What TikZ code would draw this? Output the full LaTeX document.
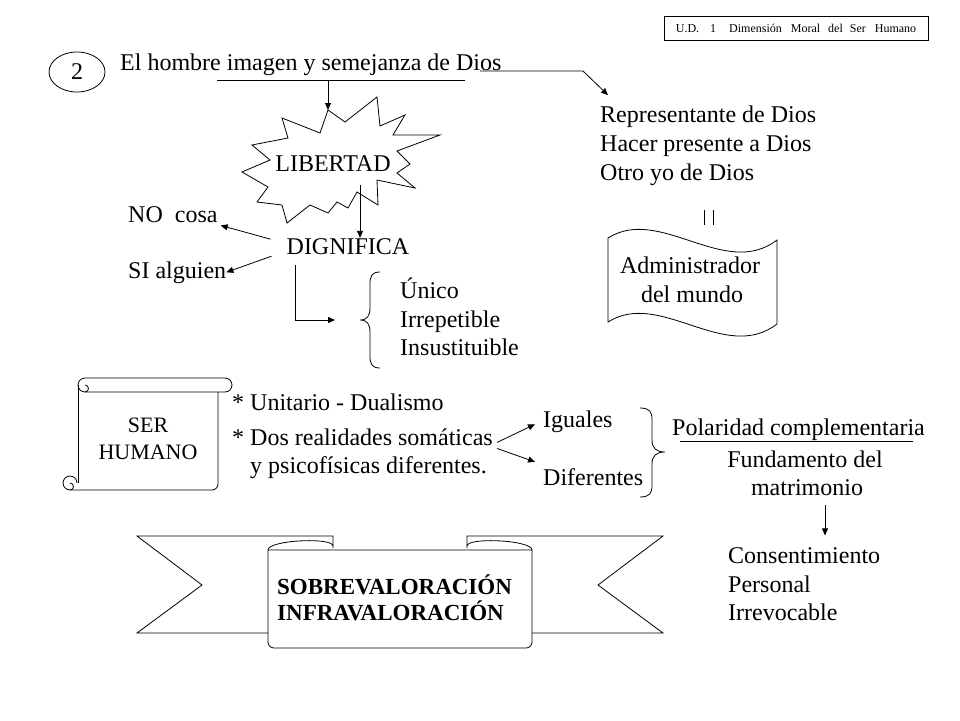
\documentclass[tikz,border=0pt]{standalone}
\usepackage{fontspec}
\setmainfont{Liberation Serif}
\usetikzlibrary{arrows.meta,positioning,calc,shapes.geometric}
\tikzset{
  txt/.style={font=\fontsize{24}{29}\selectfont, inner sep=0pt, anchor=base west},
  ctxt/.style={txt, anchor=base},
  btxt/.style={txt, font=\fontsize{23}{28}\selectfont\bfseries},
  hdr/.style={draw, line width=0.8pt, font=\fontsize{12}{14}\selectfont,
              minimum width=264pt, minimum height=24pt, inner sep=0pt},
  arr/.style={-{Triangle[length=7pt,width=6pt]}, line width=0.8pt},
  ln/.style={line width=0.8pt},
  shp/.style={draw, line width=0.8pt, fill=white},
}

\begin{document}
\begin{tikzpicture}[x=1pt, y=-1pt]
  \useasboundingbox (0,0) rectangle (960,720);

  % cabecera
  \node[hdr] (ud) at (796,28.5) {U.D.\hspace{11pt}1\hspace{13pt}Dimensión\hspace{9pt}Moral\hspace{8pt}del\hspace{7pt}Ser\hspace{9pt}Humano};
  \node[ellipse, draw, ln, minimum width=56pt, minimum height=40pt, inner sep=0pt,
        font=\fontsize{24}{29}\selectfont] (num) at (77,72) {2};

  % titulo
  \node[txt] (titulo) at (120,70) {El hombre imagen y semejanza de Dios};
  \coordinate (ulL) at (217,80); \coordinate (ulR) at (465,80);
  \coordinate (ulM) at (328,80);
  \draw[ln] (ulL) -- (ulR);
  \coordinate (osL) at (480,71); \coordinate (osR) at (583,71);

  % libertad
  \coordinate (libtop) at (328,110);
  \draw[shp] (libtop) -- (345,122) -- (377,97) -- (380,126) -- (405,115) -- (393,135)
    -- (440,135) -- (397,151) -- (410,164) -- (397,173) -- (415,188) -- (377,180)
    -- (378,205) -- (357,192) -- (348,208) -- (337,202) -- (328,213) -- (310,205)
    -- (287,223) -- (282,205) -- (257,202) -- (268,187) -- (242,172) -- (270,160)
    -- (252,145) -- (288,138) -- (282,118) -- (320,133) -- cycle;
  \node[ctxt] (lib) at (333,171) {LIBERTAD};
  \draw[arr] (ulM) -- (libtop);
  \coordinate (libout) at (360,185);

  \node[ctxt] (dig) at (348,254) {DIGNIFICA};
  \draw[arr] (libout) -- (libout |- dig.north);
  \node[txt] (nocosa) at (128,222) {NO\ \ cosa};
  \node[txt] (sialg) at (128,278) {SI alguien};
  \draw[arr] ($(dig.west)+(-16,-7)$) -- ($(nocosa.south east)+(3,3)$);
  \draw[arr] ($(dig.west)+(-15,10)$) -- (sialg.east);

  \coordinate (ltip) at (360,320);
  \draw[arr] ($(dig.south west)+(9,11)$) |- ($(ltip)+(-25,0)$);
  \draw[ln] (380,272) .. controls (372,272) and (370,276) .. (370,284) -- (370,308)
    .. controls (370,316) and (367,320) .. (ltip)
    .. controls (367,320) and (370,324) .. (370,332) -- (370,356)
    .. controls (370,364) and (372,368) .. (380,368);
  \node[txt] (uni1) at (400,298) {Único};
  \node[txt] (uni2) at (400,327) {Irrepetible};
  \node[txt] (uni3) at (400,355) {Insustituible};

  % representante
  \node[txt] (rep1) at (600,122) {Representante de Dios};
  \node[txt] (rep2) at (600,151) {Hacer presente a Dios};
  \node[txt] (rep3) at (600,180) {Otro yo de Dios};
  \draw[arr] (osL) -- (osR) -- ($(rep1.north west)+(8,-10)$);
  \draw[ln] (704,210) -- (704,225);
  \draw[ln] (713,210) -- (713,225);
  \draw[ln] (608,238) .. controls (660,205) and (725,280) .. (777,240) -- (777,324)
    .. controls (725,364) and (660,289) .. (608,322) -- cycle;
  \node[ctxt] (adm1) at (690,273) {Administrador};
  \node[ctxt] (adm2) at (692,302) {del mundo};

  % ser humano
  \draw[ln] (85,378) -- (225,378) arc[start angle=-90, end angle=90, radius=7]
    -- (85,392) arc[start angle=90, end angle=270, radius=7];
  \draw[ln] (85,392) arc[start angle=90, end angle=-90, radius=3.5];
  \draw[ln] (78,385) -- (78,483);
  \draw[ln] (218,392) -- (218,484) arc[start angle=0, end angle=90, radius=6]
    -- (70,490) arc[start angle=90, end angle=360, radius=7];
  \draw[ln] (70,490) arc[start angle=90, end angle=-90, radius=3.5];
  \node[ctxt, font=\fontsize{22}{27}\selectfont] (ser) at (148,432) {SER};
  \node[ctxt, font=\fontsize{22}{27}\selectfont] (hum) at (148,459) {HUMANO};

  \node[txt] (unit) at (232,410) {* Unitario - Dualismo};
  \node[txt] (dos) at (232,445) {* Dos realidades somáticas};
  \node[txt] (psi) at (250,473) {y psicofísicas diferentes.};
  \node[txt] (ig) at (543,427) {Iguales};
  \node[txt] (dif) at (543,485) {Diferentes};
  \draw[arr] ($(dos.south east)+(4,-3)$) -- ($(ig.west)+(-8,3)$);
  \draw[arr] ($(dos.south east)+(4,3)$) -- ($(dif.north west)+(-8,-6)$);

  \coordinate (rtip) at (665,452);
  \draw[ln] (640,408) .. controls (650,408) and (652,412) .. (652,420) -- (652,440)
    .. controls (652,448) and (656,452) .. (rtip)
    .. controls (656,452) and (652,456) .. (652,464) -- (652,485)
    .. controls (652,493) and (650,497) .. (640,497);

  \node[txt] (pol) at (672,435) {Polaridad complementaria};
  \draw[ln] (680,441) -- (913,441);
  \node[ctxt] (fun) at (805,467) {Fundamento del};
  \node[ctxt] (mat) at (807,495) {matrimonio};
  \draw[arr] ($(mat.south)+(18,10)$) -- ($(mat.south)+(18,40)$);
  \node[txt] (con1) at (728,563) {Consentimiento};
  \node[txt] (con2) at (728,592) {Personal};
  \node[txt] (con3) at (728,620) {Irrevocable};

  % cinta
  \draw[shp] (333,548) -- (333,536) -- (137,536) -- (202,585) -- (137,633) -- (268,633);
  \draw[shp] (467,548) -- (467,536) -- (663,536) -- (598,585) -- (663,633) -- (532,633);
  \draw[shp] (268,550) -- (268,642) arc[start angle=180, end angle=90, radius=6]
    -- (526,648) arc[start angle=90, end angle=0, radius=6] -- (532,550) -- cycle;
  \draw[ln] (268,550) .. controls (268,540) and (333,537) .. (333,546);
  \draw[ln] (532,550) .. controls (532,540) and (467,537) .. (467,546);
  \node[btxt] (sobre) at (277,594) {SOBREVALORACIÓN};
  \node[btxt] (infra) at (277,620) {INFRAVALORACIÓN};
\end{tikzpicture}
\end{document}
